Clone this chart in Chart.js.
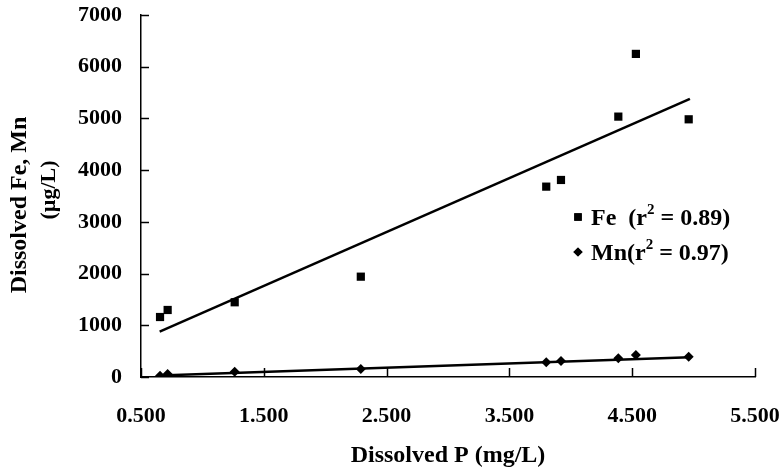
<!DOCTYPE html>
<html><head><meta charset="utf-8">
<script src="https://cdn.jsdelivr.net/npm/chart.js@4/dist/chart.umd.min.js"></script>
<style>html,body{margin:0;padding:0;background:#fff}#wrap{width:783px;height:472px}</style>
</head><body><div id="wrap"><canvas id="c" width="783" height="472"></canvas></div>
<script>
// ---- data ----
const dissolvedP  = [0.655, 0.717, 1.263, 2.29, 3.80, 3.92, 4.387, 4.53, 4.96];
const dissolvedFe = [1160, 1296, 1445, 1940, 3681, 3810, 5035, 6248, 4983];
const dissolvedMn = [25, 60, 100, 155, 283, 310, 362, 425, 393];
const trendP  = [0.652, 4.97];
const feTrend = [876, 5377];
const mnTrend = [30, 381];
const xTickValues = [0.5, 1.5, 2.5, 3.5, 4.5, 5.5];
const yTickValues = [0, 1000, 2000, 3000, 4000, 5000, 6000, 7000];
const seriesNames = ['Fe', 'Mn'];
const r2Values = ['0.89', '0.97'];

const FONT = "'Liberation Serif', 'Times New Roman', serif";
const pts = (ys) => dissolvedP.map((x, i) => ({x, y: ys[i]}));
const line = (ys) => trendP.map((x, i) => ({x, y: ys[i]}));

const tickPlugin = {
  id: 'innerTicks',
  afterDraw(chart) {
    const {ctx, scales: {x, y}} = chart;
    ctx.save();
    ctx.strokeStyle = '#000';
    ctx.lineWidth = 1.5;
    const x0 = x.getPixelForValue(x.min), y0 = y.getPixelForValue(0);
    yTickValues.forEach(v => {
      const py = Math.round(y.getPixelForValue(v)) + 0.5;
      ctx.beginPath(); ctx.moveTo(x0, py); ctx.lineTo(x0 + 8, py); ctx.stroke();
    });
    xTickValues.forEach(v => {
      const px = Math.round(x.getPixelForValue(v)) + 0.5;
      ctx.beginPath(); ctx.moveTo(px, y0); ctx.lineTo(px, y0 - 9); ctx.stroke();
    });
    // y axis title
    ctx.fillStyle = '#000';
    ctx.textAlign = 'center'; ctx.textBaseline = 'middle';
    ctx.font = 'bold 24px ' + FONT;
    ctx.save(); ctx.translate(20, 205); ctx.rotate(-Math.PI / 2);
    ctx.fillText('Dissolved Fe, Mn', 0, 0); ctx.restore();
    ctx.font = 'bold 22px ' + FONT;
    ctx.save(); ctx.translate(49, 190); ctx.rotate(-Math.PI / 2);
    ctx.fillText('(\u00b5g/L)', 0, 0); ctx.restore();
    // legend
    const rows = [
      {marker: 'rect', radius: 5.3, my: 217, base: 225, pre: seriesNames[0] + '  (r', post: ' = ' + r2Values[0] + ')'},
      {marker: 'rectRot', radius: 4.6, my: 252, base: 260, pre: seriesNames[1] + '(r', post: ' = ' + r2Values[1] + ')'}
    ];
    ctx.textAlign = 'left'; ctx.textBaseline = 'alphabetic';
    rows.forEach(r => {
      Chart.helpers.drawPoint(ctx, {pointStyle: r.marker, radius: r.radius, rotation: 0, borderWidth: 0}, 578, r.my);
      ctx.fillStyle = '#000';
      ctx.fill();
      ctx.font = 'bold 24px ' + FONT;
      let tx = 591;
      ctx.fillText(r.pre, tx, r.base); tx += ctx.measureText(r.pre).width;
      ctx.font = 'bold 15px ' + FONT;
      ctx.fillText('2', tx, r.base - 11); tx += ctx.measureText('2').width;
      ctx.font = 'bold 24px ' + FONT;
      ctx.fillText(r.post, tx, r.base);
    });
    ctx.restore();
  }
};

new Chart(document.getElementById('c'), {
  type: 'scatter',
  data: {
    datasets: [
      {label: 'Fe', data: pts(dissolvedFe), pointStyle: 'rect', pointRadius: 5.8, backgroundColor: '#000', borderColor: '#000', borderWidth: 0},
      {label: 'Mn', data: pts(dissolvedMn), pointStyle: 'rectRot', pointRadius: 5, backgroundColor: '#000', borderColor: '#000', borderWidth: 0},
      {label: 'Fe trend', data: line(feTrend), showLine: true, pointRadius: 0, borderColor: '#000', borderWidth: 2.5, fill: false},
      {label: 'Mn trend', data: line(mnTrend), showLine: true, pointRadius: 0, borderColor: '#000', borderWidth: 2.5, fill: false}
    ]
  },
  options: {
    responsive: false, animation: false, devicePixelRatio: 1,
    layout: {padding: 0},
    plugins: {legend: {display: false}, tooltip: {enabled: false}},
    scales: {
      x: {
        type: 'linear', min: 0.5, max: 5.5,
        afterBuildTicks: s => { s.ticks = xTickValues.map(v => ({value: v})); },
        afterFit: s => { s.height = 95; s.paddingRight = 28; s.paddingLeft = 0; },
        grid: {display: false, drawTicks: false},
        border: {display: true, color: '#000', width: 1.5},
        ticks: {color: '#000', padding: 26, maxRotation: 0, font: {family: FONT, size: 22, weight: 'bold'}, callback: v => Number(v).toFixed(3)},
        title: {display: true, text: 'Dissolved P (mg/L)', color: '#000', padding: {top: 0, bottom: 2}, font: {family: FONT, size: 24, weight: 'bold'}}
      },
      y: {
        type: 'linear', min: 0, max: 7000,
        afterBuildTicks: s => { s.ticks = yTickValues.map(v => ({value: v})); },
        afterFit: s => { s.width = 141; s.paddingTop = 15; s.paddingBottom = 0; },
        grid: {display: false, drawTicks: false},
        border: {display: true, color: '#000', width: 1.5},
        ticks: {color: '#000', padding: 19, font: {family: FONT, size: 22, weight: 'bold'}, callback: v => String(v)}
      }
    }
  },
  plugins: [tickPlugin]
});
</script></body></html>
